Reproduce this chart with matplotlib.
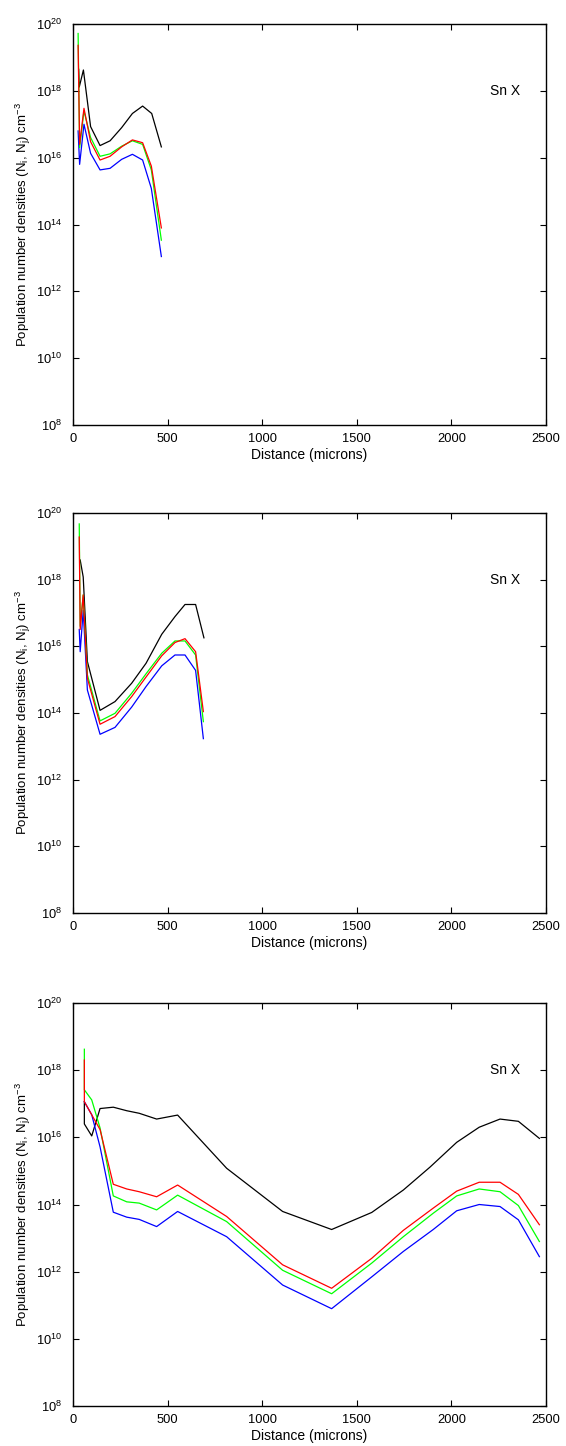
import matplotlib
matplotlib.use("Agg")
import matplotlib.pyplot as plt
from matplotlib.ticker import FixedLocator, NullLocator, FixedFormatter

plt.rcParams['font.family'] = ['Liberation Sans', 'DejaVu Sans']
plt.rcParams['mathtext.fontset'] = 'custom'
plt.rcParams['mathtext.rm'] = 'Liberation Sans'
plt.rcParams['mathtext.it'] = 'Liberation Sans:italic'
plt.rcParams['mathtext.bf'] = 'Liberation Sans:bold'

# ---------------- data ----------------
# Panel 1
p1_black_x = [30, 33, 55, 93, 143, 196, 257, 314, 368, 416, 467]
p1_black = [4.4e18, 1.3e18, 4.2e18, 8.5e16, 2.3e16, 3.2e16, 7.9e16, 2.1e17, 3.5e17, 2.1e17, 2.1e16]
p1_x = [27, 35, 58, 93, 143, 196, 257, 314, 368, 414, 467]
p1_red = [2.3e19, 2.5e16, 3.0e17, 3.0e16, 8.5e15, 1.1e16, 2.1e16, 3.4e16, 2.8e16, 5.6e15, 7.9e13]
p1_green = [5.2e19, 2.0e16, 2.5e17, 4.0e16, 1.1e16, 1.3e16, 2.2e16, 3.2e16, 2.5e16, 4.3e15, 3.4e13]
p1_blue = [6.3e16, 6.3e15, 1.0e17, 1.35e16, 4.3e15, 4.8e15, 8.9e15, 1.26e16, 8.5e15, 1.2e15, 1.1e13]

# Panel 2
p2_black_x = [38, 54, 76, 143, 222, 310, 386, 469, 539, 592, 648, 692]
p2_black = [3.9e18, 1.2e18, 3.5e15, 1.2e14, 2.2e14, 7.8e14, 3.1e15, 2.3e16, 7.8e16, 1.8e17, 1.8e17, 1.8e16]
p2_x = [33, 38, 54, 76, 143, 222, 310, 386, 469, 539, 592, 648, 689]
p2_red = [1.9e19, 3.2e16, 3.5e17, 1.1e15, 4.6e13, 7.8e13, 3.1e14, 1.2e15, 5.2e15, 1.3e16, 1.7e16, 6.9e15, 1.1e14]
p2_green = [4.7e19, 4.0e16, 3.5e17, 1.4e15, 5.8e13, 9.8e13, 3.9e14, 1.5e15, 6.2e15, 1.45e16, 1.45e16, 5.5e15, 5.5e13]
p2_blue = [3.2e16, 6.9e15, 1.2e17, 4.9e14, 2.3e13, 3.7e13, 1.5e14, 6.2e14, 2.6e15, 5.5e15, 5.5e15, 1.9e15, 1.7e13]

# Panel 3
p3_black_x = [60, 60, 99, 143, 213, 284, 350, 442, 553, 812, 1108, 1367, 1579, 1746, 1887, 2028, 2147, 2257, 2354, 2465]
p3_black = [1.15e17, 2.5e16, 1.1e16, 7.2e16, 7.9e16, 6.2e16, 5.2e16, 3.5e16, 4.6e16, 1.2e15, 6.2e13, 1.8e13,
            5.8e13, 2.7e14, 1.3e15, 7.1e15, 2.0e16, 3.5e16, 3.0e16, 9.3e15]
p3_x = [60, 60, 99, 143, 213, 284, 350, 442, 553, 812, 1108, 1367, 1579, 1746, 1904, 2028, 2147, 2257, 2354, 2465]
p3_red = [2.0e18, 1.15e17, 4.7e16, 1.7e16, 4.0e14, 2.9e14, 2.4e14, 1.7e14, 3.8e14, 4.4e13, 1.6e12, 3.2e11,
          2.5e12, 1.7e13, 7.8e13, 2.5e14, 4.6e14, 4.6e14, 2.0e14, 2.5e13]
p3_green = [4.2e18, 2.6e17, 1.3e17, 1.9e16, 1.8e14, 1.2e14, 1.1e14, 6.9e13, 1.9e14, 3.1e13, 1.1e12, 2.2e11,
            1.8e12, 1.1e13, 5.5e13, 1.8e14, 2.9e14, 2.4e14, 9.3e13, 7.9e12]
p3_blue = [1.15e17, 1.15e17, 4.7e16, 5.2e15, 5.9e13, 4.2e13, 3.6e13, 2.2e13, 6.2e13, 1.1e13, 4.0e11, 7.9e10,
           7.0e11, 4.0e12, 1.8e13, 6.5e13, 1.0e14, 8.7e13, 3.5e13, 2.8e12]

x_ticks = [0, 500, 1000, 1500, 2000, 2500]
y_ticks = [1e8, 1e10, 1e12, 1e14, 1e16, 1e18, 1e20]
y_tick_labels = [r'10$^{8}$', r'10$^{10}$', r'10$^{12}$', r'10$^{14}$', r'10$^{16}$', r'10$^{18}$', r'10$^{20}$']

panels = [
    (p1_black_x, p1_black, p1_x, p1_red, p1_green, p1_blue),
    (p2_black_x, p2_black, p2_x, p2_red, p2_green, p2_blue),
    (p3_black_x, p3_black, p3_x, p3_red, p3_green, p3_blue),
]

W, H = 566, 1446
fig = plt.figure(figsize=(W / 100, H / 100), dpi=100)

ax_rects = [(24, 425), (513, 913), (1003, 1406)]
left, right = 73, 546

for (top, bot), (bx, by, cx, red, green, blue) in zip(ax_rects, panels):
    ax = fig.add_axes([left / W, 1 - bot / H, (right - left) / W, (bot - top) / H])
    ax.plot(bx, by, color='black', lw=0.9)
    ax.plot(cx, blue, color='blue', lw=0.9)
    ax.plot(cx, green, color='#00ff00', lw=0.9)
    ax.plot(cx, red, color='red', lw=0.9)
    ax.set_yscale('log')
    ax.set_xlim(0, 2500)
    ax.set_ylim(1e8, 1e20)
    ax.xaxis.set_major_locator(FixedLocator(x_ticks))
    ax.yaxis.set_major_locator(FixedLocator(y_ticks))
    ax.yaxis.set_major_formatter(FixedFormatter(y_tick_labels))
    ax.yaxis.set_minor_locator(NullLocator())
    ax.tick_params(direction='in', top=True, right=True, length=4, width=0.8,
                   labelsize=9.3)
    ax.tick_params(axis='x', pad=6)
    ax.tick_params(axis='y', pad=8)
    for s in ax.spines.values():
        s.set_linewidth(1.0)
    ax.set_xlabel('Distance (microns)', fontsize=10, labelpad=2)
    ax.set_ylabel(r'Population number densities (N$_{\mathrm{i}}$, N$_{\mathrm{j}}$) cm$^{-3}$',
                  fontsize=9.5, labelpad=2)
    ax.text(2283, 1e18, 'Sn X', fontsize=10, ha='center', va='center')

fig.savefig('out.png', dpi=100)
